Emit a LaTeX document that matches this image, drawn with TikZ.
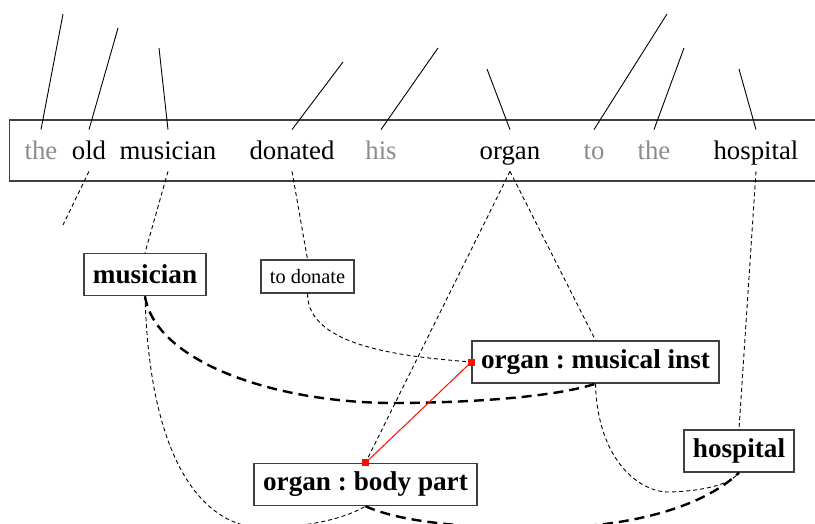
\documentclass[tikz,border=0pt]{standalone}
\usepackage{fontspec}
\setmainfont{Liberation Serif}
\frenchspacing
\begin{document}
\begin{tikzpicture}[x=0.5pt,y=-0.5pt,
  word/.style={inner xsep=0pt,inner ysep=5pt,text height=10pt,text depth=0.5pt,anchor=base,
    font=\fontsize{13.4}{16}\selectfont},
  fn/.style={word,text=black!45},
  sense/.style={draw=black!75,line width=0.7pt,inner xsep=4.5pt,inner ysep=0pt,minimum height=21pt,
    font=\fontsize{13.6}{16}\selectfont\bfseries},
  small/.style={draw=black!75,line width=0.7pt,inner xsep=4.5pt,inner ysep=0pt,minimum height=16.5pt,
    font=\fontsize{10.2}{12}\selectfont},
  up/.style={line width=0.45pt},
  thin/.style={line width=0.45pt,dash pattern=on 2pt off 1.5pt},
  thick/.style={line width=1.2pt,dash pattern=on 5pt off 3pt},
  redsq/.style={fill=red!90!orange,inner sep=0pt,minimum size=3.5pt},
]
\useasboundingbox (0,0) rectangle (815,524);
\clip (0,0) rectangle (815,524);
% sentence box
\draw[black!75,line width=0.7pt] (820,120) -- (9.5,120) -- (9.5,181) -- (820,181);
% words
\node[fn]   (w1) at (41,160)  {the};
\node[word] (w2) at (89,160)  {old};
\node[word] (w3) at (168,160) {musician};
\node[word] (w4) at (292,160) {donated};
\node[fn]   (w5) at (381,160) {his};
\node[word] (w6) at (510,160) {organ};
\node[fn]   (w7) at (594,160) {to};
\node[fn]   (w8) at (654,160) {the};
\node[word] (w9) at (756,160) {hospital};
% upward free ends
\coordinate (t1) at (63,14);
\coordinate (t2) at (118,28);
\coordinate (t3) at (159,48);
\coordinate (t4) at (343,62);
\coordinate (t5) at (438,48);
\coordinate (t6) at (487,69);
\coordinate (t7) at (667,14);
\coordinate (t8) at (684,48);
\coordinate (t9) at (739,69);
\foreach \i in {1,...,9} \draw[up] (w\i.north) -- (t\i);
% sense boxes
\node[sense] (mu) at (145,274.5) {musician};
\node[small] (td) at (307.5,276.5) {to donate};
\node[sense] (mi) at (595.5,362) {organ : musical inst};
\node[sense] (ho) at (739,451) {hospital};
\node[sense] (bp) at (365.5,484.5) {organ : body part};
% downward dashed links
\coordinate (d2) at (63,225);
\draw[thin] (w2.south) -- (d2);
\draw[thin] (w3.south) -- (mu.north);
\draw[thin] (w4.south) -- (td.north);
\draw[thin] (w6.south) -- (bp.north);
\draw[thin] (w6.south) -- (mi.north);
\draw[thin] (w9.south) -- (ho.north);
% curved links
\coordinate (c1) at (390,403);
\coordinate (c2) at (268,528);
\coordinate (c3) at (670,492);
\coordinate (c4) at (540,528);
\draw[thin] (td.south) .. controls +(0,55) and +(-60,-5) .. (mi.west);
\draw[thick] (mu.south) .. controls +(10,64) and +(-120,-1) .. (c1)
   .. controls +(90,0) and +(-36,12) .. (mi.south);
\draw[thin] (mu.south) .. controls +(5,174) and +(-60,2) .. (c2)
   .. controls +(50,-2) and +(-17,10) .. (bp.south);
\draw[thin] (mi.south) .. controls +(2,77) and +(-30,1) .. (c3)
   .. controls +(30,-1) and +(-10,13) .. (ho.south);
\draw[thick] (bp.south) .. controls +(33,15) and +(-80,0) .. (c4)
   .. controls +(80,0) and +(-40,38) .. (ho.south);
% red relation
\draw[red!90!orange,line width=0.5pt] (mi.west) -- (bp.north);
\node[redsq] (r1) at (mi.west) {};
\node[redsq] (r2) at (bp.north) {};
\end{tikzpicture}
\end{document}
